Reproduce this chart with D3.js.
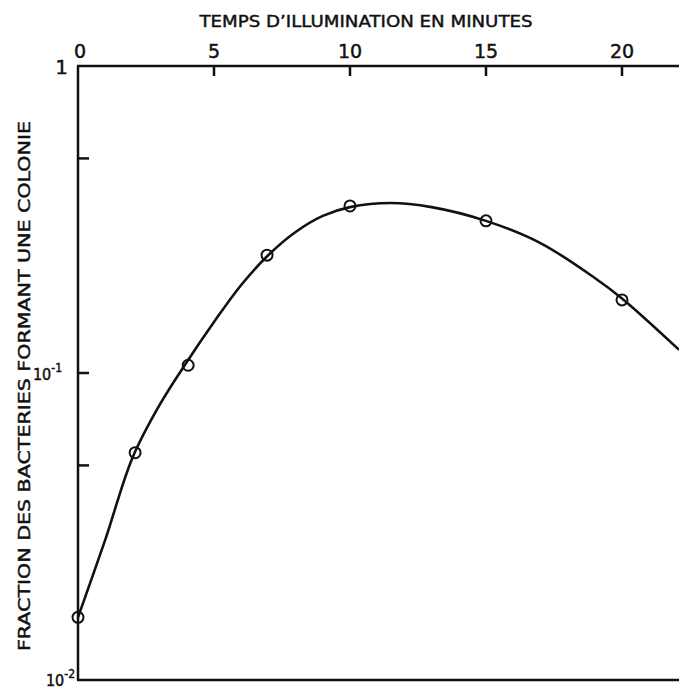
<!DOCTYPE html>
<html>
<head>
<meta charset="utf-8">
<script src="https://cdn.jsdelivr.net/npm/d3@7"></script>
<style>
  body { margin: 0; background: #fff; }
  svg { display: block; }
  text { font-family: "DejaVu Sans", sans-serif; fill: #111; stroke: #111; stroke-width: 0.45px; }
  .pow { font-family: "DejaVu Sans Condensed", "DejaVu Sans", sans-serif; }
</style>
</head>
<body>
<div id="chart-area"></div>
<script>
// measured points (minutes, fraction)
var minutes  = [0, 2.1, 4.05, 6.95, 10, 15, 20];
var fraction = [0.016, 0.055, 0.106, 0.242, 0.35, 0.313, 0.173];

// hand-drawn curve
var curveX = [0, 1, 2, 3, 4, 5, 6, 7, 8, 9, 10, 11.5, 13, 15, 17, 19, 20, 22.1];
var curveY = [0.016, 0.0286, 0.0529, 0.0787, 0.1086, 0.1466, 0.1935, 0.2423, 0.288, 0.325, 0.347, 0.358, 0.347, 0.313, 0.265, 0.204, 0.175, 0.119];

var xTicks = [5, 10, 15, 20];
var yTicks = [0.5, 0.1, 0.05];

var margin = { left: 78, top: 66 };
var W = 679, H = 689;

var svg = d3.select("#chart-area")
    .append("svg")
        .attr("width", W)
        .attr("height", H);

var x = d3.scaleLinear().domain([0, 22.1]).range([margin.left, margin.left + 22.1 * 27.2]);
var y = d3.scaleLog().domain([0.01, 1]).range([680, margin.top]);

var ink = "#111";

// frame: top axis, left axis, bottom
svg.append("line")
    .attr("x1", x(0) - 1).attr("x2", W)
    .attr("y1", y(1)).attr("y2", y(1))
    .attr("stroke", ink).attr("stroke-width", 2.5);
svg.append("line")
    .attr("x1", x(0)).attr("x2", x(0))
    .attr("y1", y(1)).attr("y2", y(0.01))
    .attr("stroke", ink).attr("stroke-width", 2.5);
svg.append("line")
    .attr("x1", x(0) - 1).attr("x2", W)
    .attr("y1", y(0.01)).attr("y2", y(0.01))
    .attr("stroke", ink).attr("stroke-width", 2.5);

// x ticks (pointing down into the plot)
svg.selectAll(".xtick")
    .data(xTicks)
    .enter().append("line")
    .attr("class", "xtick")
    .attr("x1", d => x(d)).attr("x2", d => x(d))
    .attr("y1", y(1)).attr("y2", y(1) + 10)
    .attr("stroke", ink).attr("stroke-width", 2.5);

svg.selectAll(".xlab")
    .data([0].concat(xTicks))
    .enter().append("text")
    .attr("class", "xlab")
    .attr("x", d => x(d))
    .attr("y", y(1) - 8)
    .attr("text-anchor", "middle")
    .attr("dx", d => d == 0 ? 2 : 0)
    .attr("font-size", "19px")
    .text(d => d);

// y ticks
svg.selectAll(".ytick")
    .data(yTicks)
    .enter().append("line")
    .attr("class", "ytick")
    .attr("x1", x(0)).attr("x2", x(0) + 11)
    .attr("y1", d => y(d)).attr("y2", d => y(d))
    .attr("stroke", ink).attr("stroke-width", 2.5);

// y labels: 1, 10^-1, 10^-2
svg.append("text")
    .attr("x", x(0) - 10).attr("y", y(1) + 8)
    .attr("text-anchor", "end")
    .attr("font-size", "20px")
    .text("1");

function powLabel(v, exp, dx, dy) {
  var t = svg.append("text")
      .attr("class", "pow")
      .attr("x", x(0) - dx).attr("y", y(v) + dy)
      .attr("text-anchor", "end")
      .attr("font-size", "16px");
  t.append("tspan").text("10");
  t.append("tspan").attr("dy", -8).attr("font-size", "12px").text(exp);
}
powLabel(0.1, "-1", 16, 7);
powLabel(0.01, "-2", 3, 6);

// titles
svg.append("text")
    .attr("x", 366).attr("y", 27)
    .attr("text-anchor", "middle")
    .attr("font-size", "16px")
    .attr("textLength", 333)
    .attr("lengthAdjust", "spacingAndGlyphs")
    .text("TEMPS D\u2019ILLUMINATION EN MINUTES");

svg.append("text")
    .attr("transform", "translate(30, 386) rotate(-90)")
    .attr("text-anchor", "middle")
    .attr("font-size", "16px")
    .attr("textLength", 530)
    .attr("lengthAdjust", "spacingAndGlyphs")
    .text("FRACTION DES BACTERIES FORMANT UNE COLONIE");

// curve
var curve = curveX.map((d, i) => ({ t: d, f: curveY[i] }));
var line = d3.line()
    .x(d => x(d.t))
    .y(d => y(d.f))
    .curve(d3.curveCatmullRom.alpha(0.5));

svg.append("path")
    .datum(curve)
    .attr("d", line)
    .attr("fill", "none")
    .attr("stroke", ink)
    .attr("stroke-width", 2.6);

// points
var pts = minutes.map((d, i) => ({ t: d, f: fraction[i] }));
svg.selectAll("circle")
    .data(pts)
    .enter().append("circle")
    .attr("cx", d => x(d.t))
    .attr("cy", d => y(d.f))
    .attr("r", 5.5)
    .attr("fill", "none")
    .attr("stroke", ink)
    .attr("stroke-width", 2);
</script>
</body>
</html>
